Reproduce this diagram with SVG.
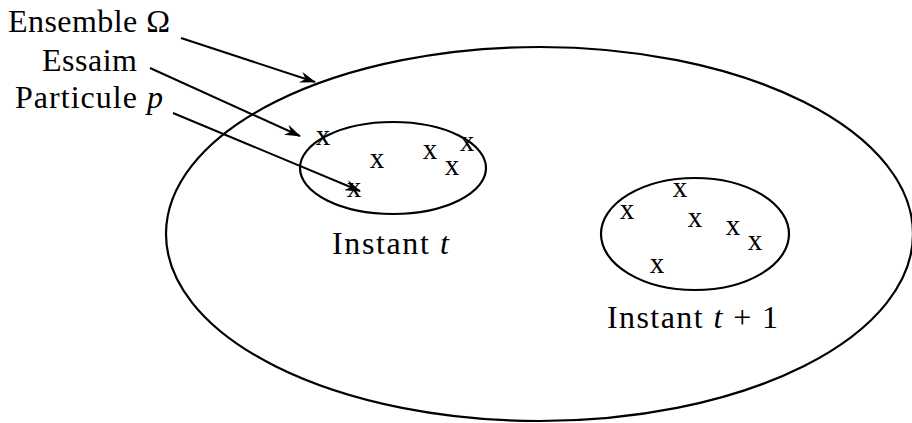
<svg xmlns="http://www.w3.org/2000/svg" width="912" height="423" viewBox="0 0 912 423">
<defs>
<style>
text{font-family:'Liberation Serif','DejaVu Serif',serif;font-size:32px;fill:#000}
.x{text-anchor:middle;font-size:29px}
.shape{fill:none;stroke:#000;stroke-width:2.2}
.conn{fill:none;stroke:#000;stroke-width:2}
</style>
<marker id="ah" viewBox="0 0 16 11" refX="15" refY="5.5" markerWidth="16" markerHeight="11" markerUnits="userSpaceOnUse" orient="auto">
<path d="M0,0 L16,5.5 L0,11 L5,5.5 Z" fill="#000"/>
</marker>
</defs>
<rect width="912" height="423" fill="#fff"/>
<g id="ensemble">
<ellipse class="shape" cx="539.5" cy="234" rx="373.5" ry="187"/>
</g>
<g id="essaim-t">
<ellipse class="shape" cx="393" cy="168" rx="93" ry="46"/>
<text class="x" x="323" y="145">x</text>
<text class="x" x="377" y="168">x</text>
<text class="x" x="430" y="159">x</text>
<text class="x" x="467" y="151">x</text>
<text class="x" x="452" y="175">x</text>
<text class="x" x="354" y="197">x</text>
<text x="332" y="254" textLength="117" lengthAdjust="spacing">Instant <tspan font-style="italic">t</tspan></text>
</g>
<g id="essaim-t1">
<ellipse class="shape" cx="695" cy="234" rx="94" ry="56"/>
<text class="x" x="627" y="219">x</text>
<text class="x" x="680" y="197">x</text>
<text class="x" x="695" y="227">x</text>
<text class="x" x="733" y="235">x</text>
<text class="x" x="755" y="250">x</text>
<text class="x" x="657" y="273">x</text>
<text x="607" y="328" textLength="171" lengthAdjust="spacing">Instant <tspan font-style="italic">t</tspan> + 1</text>
</g>
<g id="labels">
<text x="8" y="32" textLength="162" lengthAdjust="spacing">Ensemble Ω</text>
<text x="42" y="71" textLength="95" lengthAdjust="spacing">Essaim</text>
<text x="15" y="108" textLength="148" lengthAdjust="spacing">Particule <tspan font-style="italic">p</tspan></text>
</g>
<g id="connectors">
<line class="conn" x1="181" y1="38" x2="315" y2="82" marker-end="url(#ah)"/>
<line class="conn" x1="150" y1="68" x2="300" y2="136" marker-end="url(#ah)"/>
<line class="conn" x1="173" y1="113" x2="360" y2="191" marker-end="url(#ah)"/>
</g>
</svg>
